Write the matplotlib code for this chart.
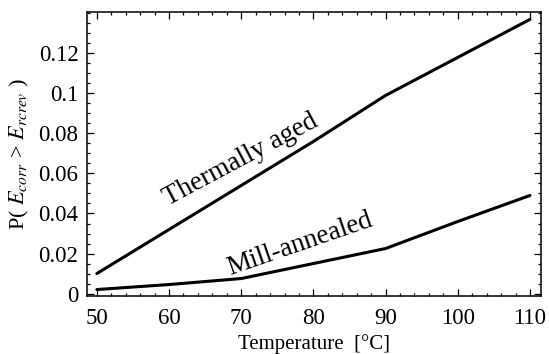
import numpy as np
import matplotlib
matplotlib.use('Agg')
import matplotlib.pyplot as plt
from matplotlib.ticker import MultipleLocator

plt.rcParams['font.family'] = 'Liberation Serif'
plt.rcParams['mathtext.fontset'] = 'stix'

# temperature grid and probability estimates for both conditions
temps = [50, 60, 70, 80, 90, 100, 110]
p_aged = [0.010, 0.032, 0.054, 0.076, 0.099, 0.118, 0.137]
p_mill = [0.002, 0.0045, 0.0075, 0.015, 0.0225, 0.036, 0.049]
xticks = [50, 60, 70, 80, 90, 100, 110]
yticks = [0, 0.02, 0.04, 0.06, 0.08, 0.1, 0.12]
yticklabels = ['0', '0.02', '0.04', '0.06', '0.08', '0.1', '0.12']

fig = plt.figure(figsize=(5.49, 3.54), dpi=100)
ax = fig.add_axes([0.158, 0.164, 0.827, 0.801])

ax.plot(temps, p_aged, color='black', lw=2.2, solid_capstyle='round')
ax.plot(temps, p_mill, color='black', lw=2.2, solid_capstyle='round')

ax.set_xlim(48.6, 111.5)
ax.set_ylim(-0.0012, 0.1405)
ax.set_xticks(xticks)
ax.set_yticks(yticks)
ax.set_yticklabels(yticklabels)
ax.xaxis.set_minor_locator(MultipleLocator(2))
ax.yaxis.set_minor_locator(MultipleLocator(0.005))
ax.tick_params(which='both', direction='in', top=True, right=True,
               labelsize=16.5, width=0.9)
ax.tick_params(which='major', length=5, pad=6)
ax.tick_params(which='minor', length=2.5)
ax.tick_params(axis='x', which='major', pad=9)
for s in ax.spines.values():
    s.set_linewidth(1.1)

ax.set_xlabel('Temperature  [°C]', fontsize=15, labelpad=3)
ax.set_ylabel(r'P( $E_{corr}$ > $E_{rcrev}$ )', fontsize=16, labelpad=5)

ax.text(69.9, 0.0668, 'Thermally aged', fontsize=19.5, rotation=28,
        ha='center', va='center')
ax.text(78.2, 0.0248, 'Mill-annealed', fontsize=19.5, rotation=19,
        ha='center', va='center')

fig.savefig('out.png', dpi=100)
